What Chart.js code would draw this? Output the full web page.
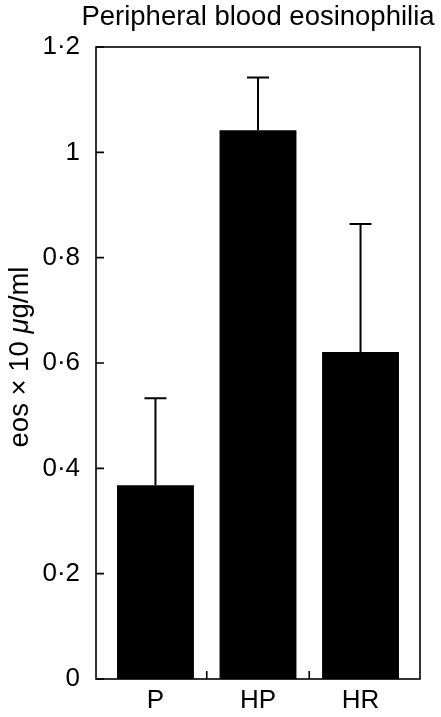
<!DOCTYPE html>
<html>
<head>
<meta charset="utf-8">
<script src="https://cdn.jsdelivr.net/npm/chart.js@4"></script>
<style>
	body { margin: 0; background: #fff; }
	canvas { display: block; }
</style>
</head>
<body>
<canvas id="chart" width="441" height="717"></canvas>
<script>

var groups = ['P', 'HP', 'HR'];
var groupPos = [1, 2, 3];
var means = [0.368, 1.042, 0.621];
var errors = [0.165, 0.100, 0.243]; // upper error only
var yTicks = [0, 0.2, 0.4, 0.6, 0.8, 1, 1.2];
var dividers = [1.5, 2.5];

var titleText = 'Peripheral blood eosinophilia';
var fontName = '"Liberation Sans", Arial, Helvetica, sans-serif';

var points = [];
for (var i = 0; i < groups.length; i++) {
	points.push({ x: groupPos[i], y: means[i] });
}

function fmt(v) {
	var r = Math.round(v * 10) / 10;
	return String(r).replace('.', '\u00b7');
}

// frame, inner ticks, error bars, title and axis title
var decor = {
	id: 'decor',
	afterDatasetsDraw: function (chart) {
		var c = chart.ctx;
		var a = chart.chartArea;
		var xs = chart.scales.x;
		var ys = chart.scales.y;
		c.save();
		c.strokeStyle = '#000';

		// error bars
		c.lineWidth = 2;
		for (var i = 0; i < means.length; i++) {
			var px = xs.getPixelForValue(groupPos[i]);
			var top = ys.getPixelForValue(means[i]);
			var cap = ys.getPixelForValue(means[i] + errors[i]);
			c.beginPath();
			c.moveTo(px, top);
			c.lineTo(px, cap);
			c.moveTo(px - 11, cap);
			c.lineTo(px + 11, cap);
			c.stroke();
		}

		// frame
		c.lineWidth = 1.6;
		c.strokeRect(a.left, a.top, a.right - a.left, a.bottom - a.top);

		// inner ticks
		c.beginPath();
		for (var j = 0; j < yTicks.length; j++) {
			var py = ys.getPixelForValue(yTicks[j]);
			c.moveTo(a.left, py);
			c.lineTo(a.left + 8, py);
		}
		for (var k = 0; k < dividers.length; k++) {
			var dx = xs.getPixelForValue(dividers[k]);
			c.moveTo(dx, a.bottom);
			c.lineTo(dx, a.bottom - 8);
		}
		c.stroke();

		// title
		c.fillStyle = '#000';
		c.font = '27.5px ' + fontName;
		c.textAlign = 'center';
		c.textBaseline = 'middle';
		c.fillText(titleText, (a.left + a.right) / 2, 17);

		// y axis title, mu in italic
		var parts = [['eos \u00d7 10 ', ''], ['\u03bc', 'italic '], ['g/ml', '']];
		var total = 0;
		for (var m = 0; m < parts.length; m++) {
			c.font = parts[m][1] + '27.5px ' + fontName;
			total += c.measureText(parts[m][0]).width;
		}
		c.translate(20, (a.top + a.bottom) / 2 - 6);
		c.rotate(-Math.PI / 2);
		c.textAlign = 'left';
		var x0 = -total / 2;
		for (var n = 0; n < parts.length; n++) {
			c.font = parts[n][1] + '27.5px ' + fontName;
			c.fillText(parts[n][0], x0, 0);
			x0 += c.measureText(parts[n][0]).width;
		}
		c.restore();
	}
};

var ctx = document.getElementById('chart');
var chart = new Chart(ctx, {
	type: 'bar',
	data: {
		datasets: [{
			data: points,
			backgroundColor: '#000',
			borderWidth: 0,
			barPercentage: 0.75,
			categoryPercentage: 1
		}]
	},
	options: {
		responsive: false,
		animation: false,
		layout: {
			padding: { top: 47, right: 21, left: 0, bottom: 0 }
		},
		plugins: {
			legend: { display: false },
			tooltip: { enabled: false },
			title: { display: false }
		},
		scales: {
			x: {
				type: 'linear',
				offset: false,
				min: 0.42,
				max: 3.58,
				grid: { display: false, drawTicks: false },
				border: { display: false },
				afterBuildTicks: function (scale) {
					scale.ticks = groupPos.map(function (v) { return { value: v }; });
				},
				afterFit: function (scale) { scale.height = 38; },
				ticks: {
					padding: 6,
					color: '#000',
					font: { family: fontName, size: 26 },
					callback: function (v) {
						var idx = groupPos.indexOf(v);
						return idx >= 0 ? groups[idx] : '';
					}
				}
			},
			y: {
				min: 0,
				max: 1.2,
				grid: { display: false, drawTicks: false },
				border: { display: false },
				afterBuildTicks: function (scale) {
					scale.ticks = yTicks.map(function (v) { return { value: v }; });
				},
				afterFit: function (scale) { scale.width = 96; },
				ticks: {
					padding: 16,
					color: '#000',
					font: { family: fontName, size: 26 },
					callback: function (v) { return fmt(v); }
				}
			}
		}
	},
	plugins: [decor]
});

</script>
</body>
</html>
